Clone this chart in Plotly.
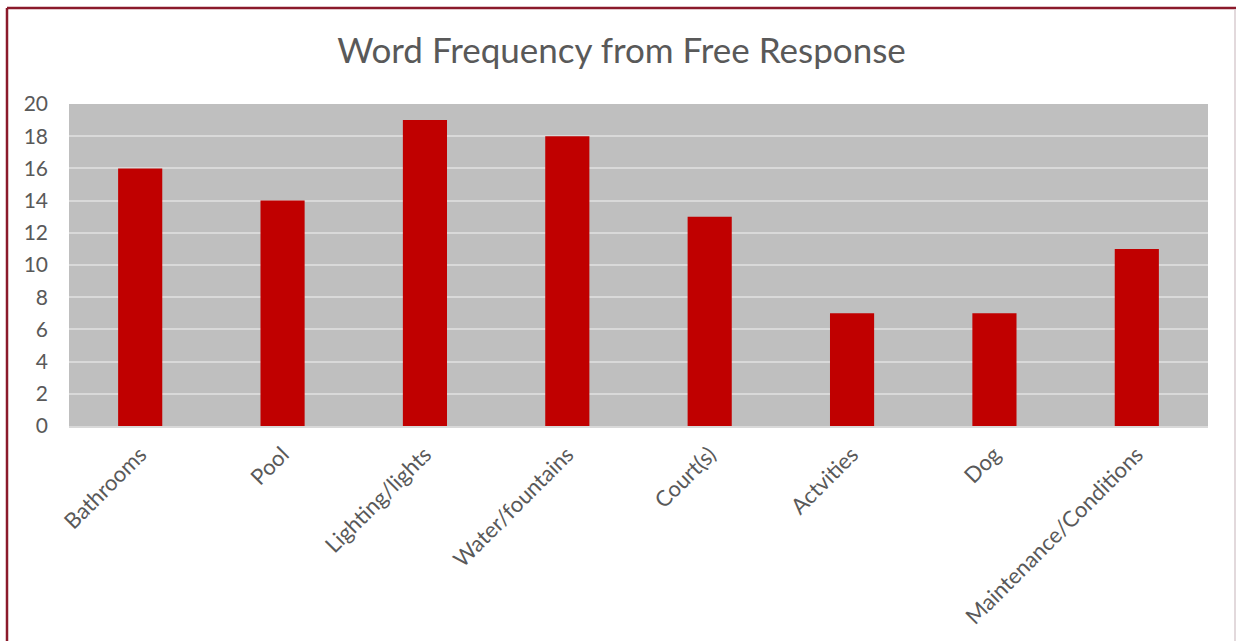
import plotly.graph_objects as go

categories = ["Bathrooms", "Pool", "Lighting/lights", "Water/fountains", "Court(s)",
              "Actvities", "Dog", "Maintenance/Conditions"]
counts = [16, 14, 19, 18, 13, 7, 7, 11]
y_ticks = list(range(0, 21, 2))

W, H = 1236, 641
L, R, T, B = 69, 28, 104, 215
pw, ph = W - L - R, H - T - B

def px(x):
    return (x - L) / pw

def py(y):
    return (H - B - y) / ph

fig = go.Figure(go.Bar(x=categories, y=counts, marker=dict(color="#C00000", line=dict(width=0)),
                       hoverinfo="x+y"))

font_fam = "Lato, 'Open Sans', sans-serif"
fig.update_layout(
    width=W, height=H,
    margin=dict(l=L, r=R, t=T, b=B, pad=0),
    paper_bgcolor="white",
    plot_bgcolor="#BFBFBF",
    bargap=0.69,
    showlegend=False,
    title=dict(text="Word Frequency from Free Response", x=621.5 / W, xref="container", xanchor="center",
               y=1 - 51 / H, yanchor="middle",
               font=dict(family=font_fam, size=35, color="#595959")),
    font=dict(family=font_fam, color="#595959"),
)
fig.update_yaxes(range=[0, 20], tickvals=y_ticks, showgrid=True, gridcolor="#D9D9D9", gridwidth=2,
                 zeroline=False, showline=False, ticks="", ticklabelstandoff=20,
                 tickfont=dict(size=21, color="#595959"))
fig.update_xaxes(tickangle=-45, showgrid=False, showline=True, linecolor="#D9D9D9", linewidth=2,
                 ticks="", ticklabelstandoff=5, tickfont=dict(size=22, color="#595959"))

# border of the chart frame
fig.add_shape(type="line", xref="paper", yref="paper", x0=px(7), x1=px(7), y0=py(8), y1=py(H + 5),
              line=dict(color="#8B1A2B", width=2.5))
fig.add_shape(type="line", xref="paper", yref="paper", x0=px(7), x1=px(W + 5), y0=py(8), y1=py(8),
              line=dict(color="#8B1A2B", width=2.5))
fig.add_shape(type="line", xref="paper", yref="paper", x0=px(1235), x1=px(1235), y0=py(9), y1=py(H + 5),
              line=dict(color="#D8CCD0", width=1.5))

fig.write_html("out.html")
